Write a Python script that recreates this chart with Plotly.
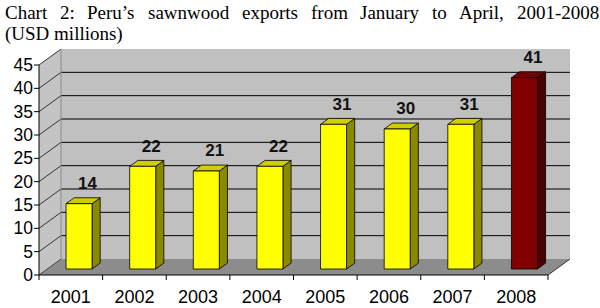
import plotly.graph_objects as go

# ---------------- data ----------------
years = ["2001", "2002", "2003", "2004", "2005", "2006", "2007", "2008"]
exports = [14, 22, 21, 22, 31, 30, 31, 41]
y_ticks = [0, 5, 10, 15, 20, 25, 30, 35, 40, 45]
title_line1 = ["Chart", "2:", "Peru’s", "sawnwood", "exports", "from", "January", "to", "April,", "2001-2008"]
title_line2 = "(USD millions)"

# ---------------- style ----------------
W, H = 600, 308
PX_X = 63.625          # px per category unit
PX_Y = 210 / 45.0      # px per value unit
DX = 22 / PX_X         # depth offset (x units)
DY = 16 / PX_Y         # depth offset (y units)
BAR_F = 0.375          # bar position in depth
BAR_D = 0.37           # bar depth fraction
BAR_W = 26 / PX_X
YMAX = 45
n = len(years)

face_cols = {"normal": ("#FFFF00", "#8A8A00", "#CFCF00"),
             "hi": ("#800000", "#4A0000", "#700000")}

fig = go.Figure()

def poly(xs, ys, fill, line_col="rgba(0,0,0,0)", lw=0):
    fig.add_trace(go.Scatter(x=xs + [xs[0]], y=ys + [ys[0]], mode="lines", fill="toself",
                             fillcolor=fill, line=dict(color=line_col, width=lw),
                             hoverinfo="skip", showlegend=False))

def seg(xs, ys, col="black", lw=1):
    fig.add_trace(go.Scatter(x=xs, y=ys, mode="lines", line=dict(color=col, width=lw),
                             hoverinfo="skip", showlegend=False))

x0, x1 = -0.5, n - 0.5
# walls and floor
poly([x0, x0, x0 + DX, x0 + DX], [0, YMAX, YMAX + DY, DY], "#C4C4C4")
poly([x0 + DX, x1 + DX, x1 + DX, x0 + DX], [DY, DY, YMAX + DY, YMAX + DY], "#C0C0C0")
poly([x0, x1, x1 + DX, x0 + DX], [0, 0, DY, DY], "#8C8C8C")

# gridlines: back wall horizontals and left wall diagonals
for v in y_ticks:
    if 0 < v < YMAX:
        seg([x0 + DX, x1 + DX], [v + DY, v + DY], "black", 1)
    seg([x0, x0 + DX], [v, v + DY], "#333333" if v > 0 else "#444444", 1)
# wall corner
seg([x0 + DX, x0 + DX], [DY, YMAX + DY], "#8a8a8a", 1)

# front axis lines
seg([x0, x0], [0, YMAX], "black", 1)
seg([x0, x1], [0, 0], "black", 1)
seg([x1, x1 + DX], [0, DY], "#333333", 1)

# tick marks
tl_x = 5 / PX_X
tl_y = 5 / PX_Y
for v in y_ticks:
    seg([x0 - tl_x, x0], [v, v], "black", 1)
for k in range(n + 1):
    xb = x0 + k
    seg([xb, xb], [0, -tl_y], "black", 1)

# bars
for i, (yr, v) in enumerate(zip(years, exports)):
    front, side, top = face_cols["hi" if i == n - 1 else "normal"]
    cx = i + BAR_F * DX
    b = BAR_F * DY
    xl, xr = cx - BAR_W / 2, cx + BAR_W / 2
    ddx, ddy = BAR_D * DX, BAR_D * DY
    poly([xr, xr + ddx, xr + ddx, xr], [b, b + ddy, b + v + ddy, b + v], side, "black", 0.8)
    poly([xl, xr, xr + ddx, xl + ddx], [b + v, b + v, b + v + ddy, b + v + ddy], top, "black", 0.8)
    poly([xl, xr, xr, xl], [b, b, b + v, b + v], front, "black", 0.8)

# data labels
fig.add_trace(go.Scatter(
    x=[i + BAR_F * DX + 8.5 / PX_X for i in range(n)],
    y=[v + BAR_F * DY + 19 / PX_Y for v in exports],
    mode="text", text=["<b>%d</b>" % v for v in exports], textposition="middle center",
    textfont=dict(family="Liberation Sans, Arial", size=17, color="#111111"),
    cliponaxis=False, hoverinfo="skip", showlegend=False))

# layout / axes
L, R, T, B = 34, 28, 46, 27
xr_left = x0 - (39 - L) / PX_X
xr_right = x0 + (W - R - 39) / PX_X
yr_bottom = -((H - B) - 275) / PX_Y
yr_top = (275 - T) / PX_Y

fig.update_layout(
    width=W, height=H, margin=dict(l=L, r=R, t=T, b=B, autoexpand=False),
    paper_bgcolor="white", plot_bgcolor="white",
    font=dict(family="Liberation Sans, Arial", size=17, color="black"),
    xaxis=dict(range=[xr_left, xr_right], showgrid=False, zeroline=False, showline=False,
               tickmode="array", tickvals=list(range(n)), ticktext=years, ticks="",
               tickfont=dict(size=18), ticklabelstandoff=3, fixedrange=True),
    yaxis=dict(range=[yr_bottom, yr_top], showgrid=False, zeroline=False, showline=False,
               tickmode="array", tickvals=y_ticks, ticktext=[str(t) for t in y_ticks], ticks="",
               tickfont=dict(size=17.5), ticklabelstandoff=0, fixedrange=True),
)

# title (justified first line), positioned in figure pixels
PW, PH = W - L - R, H - T - B
def px2paper(xp, yp):
    return (xp - L) / PW, (H - B - yp) / PH

S = 19
em = {"Chart": 2.222, "2:": 0.778, "Peru’s": 2.555, "sawnwood": 4.277, "exports": 2.944,
      "from": 1.944, "January": 3.11, "to": 0.778, "April,": 2.361, "2001-2008": 4.333}
tx0, tx1 = 3, 597
widths = [em[w] * S for w in title_line1]
gap = (tx1 - tx0 - sum(widths)) / (len(title_line1) - 1)
xpos = tx0
for w, wd in zip(title_line1, widths):
    ax, ay = px2paper(xpos, 12)
    fig.add_annotation(text=w, x=ax, y=ay, xref="paper", yref="paper",
                       xanchor="left", yanchor="middle", showarrow=False,
                       font=dict(family="Liberation Serif, Times New Roman", size=S, color="black"))
    xpos += wd + gap
ax, ay = px2paper(3, 34)
fig.add_annotation(text=title_line2, x=ax, y=ay, xref="paper", yref="paper",
                   xanchor="left", yanchor="middle", showarrow=False,
                   font=dict(family="Liberation Serif, Times New Roman", size=S, color="black"))

fig.write_html("out.html")
